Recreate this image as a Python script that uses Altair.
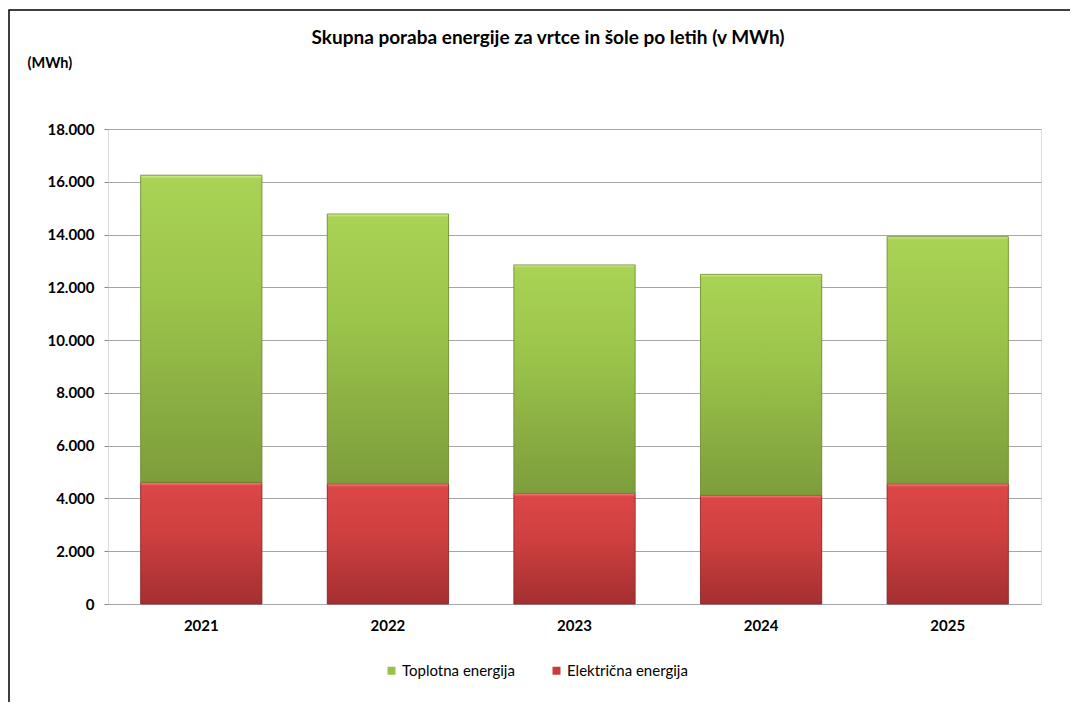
import altair as alt
import pandas as pd

years = ["2021", "2022", "2023", "2024", "2025"]
elektricna = [4610, 4560, 4190, 4120, 4560]
toplotna = [11640, 10220, 8660, 8370, 9360]
series = ["Toplotna energija", "Električna energija"]
legend_colors = ["#98c146", "#c73c3c"]
title_text = "Skupna poraba energije za vrtce in šole po letih (v MWh)"

wide = pd.DataFrame({"leto": years, "elektricna": elektricna, "toplotna": toplotna})
long = pd.DataFrame({
    "leto": years * 2,
    "vrsta": ["Električna energija"] * 5 + ["Toplotna energija"] * 5,
    "vrednost": elektricna + toplotna,
    "red": [0] * 5 + [1] * 5,
})

FONT = "Lato"

xenc = alt.X("leto:N", title=None,
             scale=alt.Scale(paddingInner=0.35, paddingOuter=0.175),
             axis=alt.Axis(labelAngle=0, labelFontWeight="bold", labelFontSize=15,
                           labelFont=FONT, labelColor="#000", ticks=False,
                           labelPadding=14, domain=False, grid=False))
yscale = alt.Scale(domain=[0, 18000], nice=False)
yaxis = alt.Axis(values=list(range(0, 18001, 2000)),
                 labelExpr="replace(format(datum.value, ','), ',', '.')",
                 labelFontWeight="bold", labelFontSize=15, labelFont=FONT,
                 labelColor="#000", tickSize=4, tickColor="#888", labelPadding=10,
                 domain=False, gridColor="#a6a6a6", gridWidth=1,
                 title="(MWh)", titleAngle=0, titleX=-81, titleY=-66,
                 titleAlign="left", titleBaseline="middle", titleFontSize=14.5,
                 titleFontWeight="bold", titleFont=FONT, titleColor="#000")

base_legend = alt.Chart(long).mark_bar().encode(
    x=xenc,
    y=alt.Y("vrednost:Q", stack="zero", scale=yscale, axis=yaxis),
    color=alt.Color("vrsta:N",
                    scale=alt.Scale(domain=series, range=legend_colors),
                    legend=alt.Legend(title=None, orient="none", legendX=276, legendY=534,
                                      direction="horizontal", symbolType="square",
                                      symbolSize=64, symbolStrokeWidth=0,
                                      labelFontSize=15, labelFont=FONT, labelColor="#000",
                                      labelOffset=3, columnPadding=34)),
    order=alt.Order("red:Q"),
)

green_grad = alt.Gradient(gradient="linear", x1=0, y1=0, x2=0, y2=1, stops=[
    alt.GradientStop(offset=0, color="#d6ef8e"),
    alt.GradientStop(offset=0.012, color="#a9d354"),
    alt.GradientStop(offset=0.4, color="#9bc44b"),
    alt.GradientStop(offset=1, color="#7d9d3b"),
])
red_grad = alt.Gradient(gradient="linear", x1=0, y1=0, x2=0, y2=1, stops=[
    alt.GradientStop(offset=0, color="#f48080"),
    alt.GradientStop(offset=0.03, color="#dc4646"),
    alt.GradientStop(offset=0.4, color="#d04040"),
    alt.GradientStop(offset=1, color="#a42f30"),
])

red_bars = alt.Chart(wide).mark_bar(fill=red_grad, stroke="#8a2b2b", strokeWidth=0.8).encode(
    x=alt.X("leto:N"),
    y=alt.Y("y0:Q", scale=yscale),
    y2="elektricna:Q",
).transform_calculate(y0="0")

green_bars = alt.Chart(wide).mark_bar(fill=green_grad, stroke="#6c8a32", strokeWidth=0.8).encode(
    x=alt.X("leto:N"),
    y=alt.Y("elektricna:Q", scale=yscale),
    y2="top:Q",
).transform_calculate(top="datum.elektricna + datum.toplotna")

one = pd.DataFrame({"a": [0]})
frame = alt.Chart(one).mark_rect(
    fill=None, stroke="#000", strokeWidth=1.5
).encode(x=alt.value(-99), x2=alt.value(1000), y=alt.value(-119), y2=alt.value(700))

title = alt.Chart(one).mark_text(
    font=FONT, fontSize=19, fontWeight="bold", color="#000",
    align="center", baseline="alphabetic"
).encode(x=alt.value(440), y=alt.value(-85), text=alt.value(title_text))

chart = alt.layer(base_legend, red_bars, green_bars, frame, title).properties(
    width=933, height=475,
    autosize=alt.AutoSizeParams(type="none"),
    padding={"left": 100, "top": 121, "right": 29, "bottom": 98},
).configure_view(stroke="#888", strokeWidth=1).configure(background="white")

chart.save("out.html", embed_options={"renderer": "svg", "actions": False})
